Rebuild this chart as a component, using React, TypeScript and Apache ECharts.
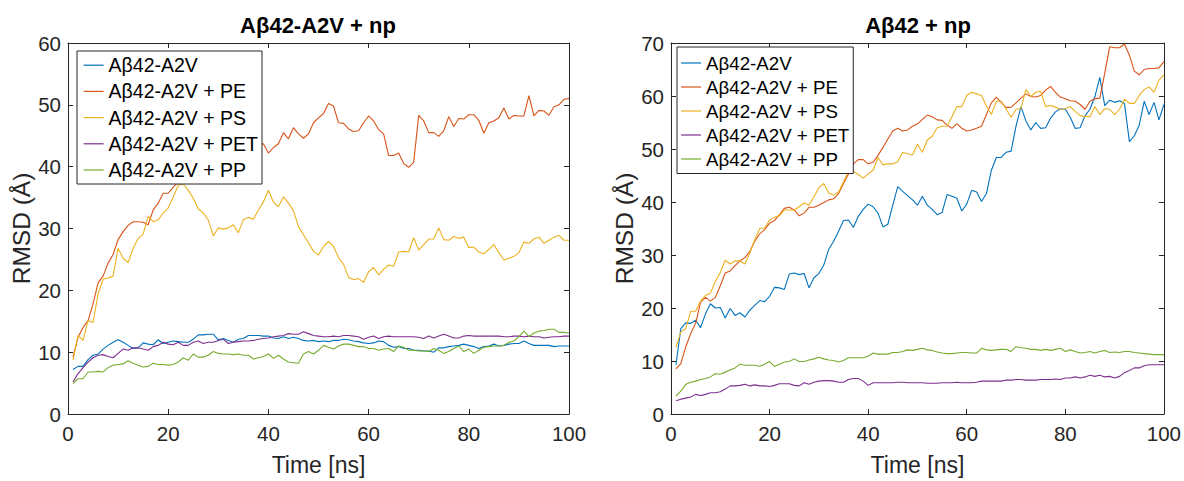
import React, { useEffect, useRef } from "react";
import * as echarts from "echarts";

const seriesNames = ["Aβ42-A2V", "Aβ42-A2V + PE", "Aβ42-A2V + PS", "Aβ42-A2V + PET", "Aβ42-A2V + PP"];
const seriesColors = ["#0072BD", "#D95319", "#EDB120", "#7E2F8E", "#77AC30"];
const leftTitle = "Aβ42-A2V + np";
const rightTitle = "Aβ42 + np";
const xName = "Time [ns]";
const yName = "RMSD (Å)";
const xTicks = [0, 20, 40, 60, 80, 100];
const leftYMax = 60;
const rightYMax = 70;

// time steps 1..100 ns
const timeNs = Array.from({ length: 100 }, (_, i) => i + 1);

// ---- Left panel: Aβ42-A2V + np ----
const leftA2V = [
  7.2, 7.7, 7.7, 8.8, 9.5, 9.7, 10.5, 11.1, 11.6, 12, 11.6, 11.1, 10.6, 10.7, 11.5, 11.3, 11.2, 12, 11.4, 11.6,
  11.8, 11.7, 11.6, 11.6, 12.1, 12.8, 12.8, 12.9, 12.9, 12, 12.2, 11.9, 11.6,
  12.1, 12.2, 12.7, 12.7, 12.7, 12.6, 12.6, 12.3, 12.2, 12.5, 12.2, 12.4, 12.2, 11.9, 11.8, 11.9, 11.7, 11.8,
  11.7, 11.9, 11.9, 12.1, 12, 11.8, 11.7, 11.5, 11.4, 11.5, 11.8, 11.7, 11.1, 10.8, 10.9,
  10.6,
  10.6, 10.3, 10.3, 10.2, 10.2, 10, 10.7, 10.7, 10.9, 11, 11.1, 11.3, 11.1, 10.9, 10.6, 10.9, 11, 11.3, 11,
  11.1, 11.3, 11.4, 11.4, 11.8, 11.4, 11.1, 11.1, 11.1, 11.1, 10.9, 11, 11, 11,
];
const leftPE = [
  9.2, 12.4, 14, 15.1, 17.8, 21.2, 22.3, 24.4, 25.8, 28.2, 29.5, 30.5, 31.1, 31.1, 31, 30.6, 33, 34.1, 35.7, 35.7,
  36.7, 37.5,
  38.5, 39, 39.8, 40.2, 40.9, 41.5, 41.2, 42, 42.6, 42.1, 43, 43.4, 42.8, 43.6, 44, 43.5,
  43.7, 42.2, 43.1, 43.7, 45.5, 44.5, 46.3, 45.3, 44.6, 45.3, 47.1, 47.9, 48.6, 50.2, 49.8, 47.1, 47, 46.1,
  45.7, 45.8, 47.1, 48.2, 47.4, 46, 45.3, 41.8, 41.8, 42.2,
  40.5, 39.9, 40.7, 48.3, 47.4, 45.5, 45.5, 44.9, 45.8, 48.1, 46.5, 47.8, 47.7, 48.4, 48.4, 47.5, 45.4, 47.1,
  47.4, 47.9, 49.5, 47.7, 48.3, 48.2, 48.2, 51.5, 48.2, 49.1, 49, 48.3, 49.7, 50, 50.9, 51,
];
const leftPS = [
  8.7, 12.7, 11.9, 15.1, 14.8, 19.4, 21.8, 22, 22.3, 26.8, 25.2, 24.5, 26.8, 28.4, 29.1, 32, 31.1, 31.4, 32.5,
  33.3, 35.1, 37, 37.2, 36.2, 34.9, 33.2, 32.5, 31.4, 28.8, 30.1, 29.9, 30.1, 30.6,
  29.3, 31.4, 31.8, 31.5, 33, 34.3, 36.2, 34.3, 33.5, 35.1, 34.1, 32.9, 30.3, 29, 27.7, 26.3, 25.7, 27.1, 27.9,
  27.1, 25.3, 24.2, 22.1, 21.7, 21.9, 21.3, 23, 23.7, 22.5, 23.4, 24.1, 23.9, 26.2, 26.3,
  26.2, 28.5, 26.5, 27.4, 28.3, 28.3, 30.1, 28.2, 28.1, 28.7, 28.4, 28.6, 26.9, 27, 26.2, 25.9, 26.6, 27.4,
  26.1, 24.9, 25.2, 25.5, 26.1, 27.8, 27.6, 28.3, 28.6, 27.6, 28.1, 28.6, 28.9, 28.1, 28.1,
];
const leftPET = [
  5.2, 6.5, 7.5, 8.4, 9.1, 9.5, 9.6, 9.3, 9.1, 9.8, 10.5, 10.3, 10.7, 10.7, 10.5, 10.3, 10.9, 11.1, 11.6, 11.3,
  11.2, 11.6, 11.1, 11.1, 11.6, 11.8, 11.4, 11.6, 11.6, 11.9, 12.1, 11.4, 11.6,
  11.7, 11.8, 11.8, 11.9, 12.1, 12.2, 12.3, 12.5, 12.6, 12.7, 13, 12.9, 12.9, 13.3, 13, 12.7, 12.6, 12.5, 12.5,
  12.6, 12.5, 12.7, 12.7, 12.6, 12.5, 12.1, 12.4, 12.6, 12.2, 12.5, 12.6, 12.5, 12.5,
  12.5,
  12.5, 12.5, 12.4, 12.2, 12.6, 12.3, 12.6, 12.9, 12.6, 12.3, 12.3, 12.6, 12.7, 12.6, 12.6, 12.6, 12.6, 12.6,
  12.6, 12.5, 12.5, 12.6, 12.6, 12.5, 12.6, 12.5, 12.5, 12.3, 12.4, 12.5, 12.5, 12.6, 12.6,
];
const leftPP = [
  4.9, 5.7, 5.7, 6.8, 6.8, 6.9, 6.8, 7.5, 7.9, 8, 8.1, 8.6, 8.2, 7.9, 7.6, 7.7, 8.2, 8, 8, 7.9, 8, 8.4, 9.1,
  8.7, 9.7, 9.2, 9.2, 9.5, 10.1, 9.8, 9.7, 9.7, 9.6,
  9.7, 9.5, 9.5, 8.9, 9.1, 9.3, 9.7, 9, 9.5, 8.9, 8.4, 8.3, 8.2, 9.7, 10.1, 9.7, 10.3, 11.1, 10.8, 10.5, 11,
  11.3, 11.3, 11.1, 10.9, 10.9, 10.6, 10.6, 10.3, 10.5, 10.6, 10.1, 11,
  10.8,
  10.3, 10.3, 10.2, 10.2, 10.1, 10.6, 10.3, 9.8, 10.1, 10.6, 11, 10.1, 10.5, 9.8, 10.3, 10.8, 10.9, 11, 11,
  11.1, 11.6, 11.8, 12.5, 13.4, 12.5, 13.1, 13.4, 13.5, 13.7, 13.7, 13.2, 13.2, 13.1,
];

// ---- Right panel: Aβ42 + np ----
const rightA2V = [
  9.3, 16.1, 17.2, 17.1, 17.7, 16.3, 18.9, 20.8, 20, 20.1, 18.1, 19.9, 18.6, 19.1, 18.3, 19.6, 20.5, 21.4, 21.2,
  22.2, 23.9, 23.8, 23.5, 26.4, 26.6, 26.3, 26.5, 23.8, 25.7, 26.5, 28.1, 31.1, 32.6, 34.5, 36.5, 36.6, 35.2,
  37.3, 38.6, 39.6, 39.1, 37.9, 35.3, 35.8, 39.4, 42.9, 42, 41.2, 40.4, 39.4,
  41.1, 39.4, 38.6, 37.6, 38, 41.4, 41.1, 40.7, 38.3, 39.6, 42.2, 41.9, 40.1, 41.6, 46, 48.4, 48.4, 49.4, 49.6,
  54.3, 58, 55.3, 53.6, 55, 53.9, 54, 55.8, 57, 57.6, 57.5, 56, 53.9, 54, 56.3, 57.5, 59.9, 63.5, 58.2, 59.2,
  58.8, 59.1, 58.6, 51.4, 52.5, 54.5, 59, 56.5, 58.8, 55.5, 58.4,
];
const rightPE = [
  8.5, 9.5, 12.7, 15.2, 17.1, 21.1, 22, 21.3, 22, 24.2, 26.6, 27, 28, 28.9, 29.5, 30.7, 32.6, 34, 34.8, 36,
  36.5, 37.6, 38.8, 39, 38.5, 37.4, 37.9, 39, 39, 39.4, 39.9, 40.4, 40.6, 41.6, 43.5, 45.3, 47.2, 48, 48, 47.2,
  47.5, 48.8, 50.3, 51.9, 53.4, 53.9, 53.4, 53.6, 54.3, 54.7,
  55.6, 56.4, 56.1, 55.5, 55.4, 54.5, 53.9, 54.8, 53.9, 53.4, 53.6, 53.9, 54.3, 56.5, 58.7, 59.8, 58.8, 57.8,
  57.9, 58.7, 59.6, 60.4, 59.9, 59.8, 60.1, 61.1, 61.8, 60.7, 59.8, 59.5, 59.1, 59, 58.4, 57.5, 59, 59.5, 59.6,
  64.3, 69.3, 69.1, 69.1, 69.8, 67.7, 64.7, 64, 65, 65.2, 65.2, 65.3, 66.5,
];
const rightPS = [
  12.6, 15.5, 16.1, 19.4, 19.4, 21.3, 22.4, 22.8, 25, 26.7, 29, 28.3, 28.9, 28.9, 28.3, 30.4, 32.9, 35, 35.1,
  36.6, 37.1, 37.4, 38.5, 38.5, 38.5, 39.1, 39.8, 39.4, 41, 42.7, 43.5, 41.7, 41.3, 41.9, 43.8, 45.7, 45.8, 45.2,
  44.5, 45.3, 46, 48.4, 47, 47.2, 47.2, 47.6, 49.4, 49.1, 48.9, 50.9,
  49.4, 51.7, 52.4, 54, 54.3, 54.3, 56.1, 58, 58, 60.1, 60.7, 60.4, 60.1, 58.1, 56.5, 59, 59, 57.5, 56, 57.5,
  57.6, 61.2, 59.9, 60.7, 60.9, 58, 58.2, 57.9, 57.5, 57.6, 58, 57.1, 56.3, 56.1, 56.1, 58, 56.5, 57.6, 57.5,
  56.5, 57.5, 59.4, 58.6, 58.6, 60.1, 61.2, 61.7, 60.7, 63, 64,
];
const rightPET = [
  2.5, 2.8, 3, 3.2, 3.7, 3.5, 3.7, 4, 4, 4.2, 4.7, 5.3, 5.3, 5.4, 5.6, 5.3, 5.5, 5.3, 5.3, 5.2, 5.4, 5.7, 5.7,
  5.7, 5.4, 5.3, 5.9, 5.6, 6, 6.2, 6.3, 6.3, 6.2, 6, 6, 6.5, 6.7, 6.7, 6.2, 5.4, 5.9, 5.9, 5.9, 5.9, 5.9, 6, 6,
  5.9, 5.9, 5.9,
  5.9, 5.8, 5.8, 5.8, 5.9, 5.9, 5.9, 6, 5.9, 5.9, 5.9, 6, 6.2, 6.2, 6.2, 6.2, 6.2, 6.4, 6.4, 6.5, 6.5, 6.4, 6.4,
  6.4, 6.5, 6.5, 6.5, 6.6, 6.5, 6.8, 6.8, 7, 6.8, 7, 7.3, 7.1, 7.3, 7, 7.1, 6.8, 7.1, 7.8, 8.2, 8.7, 8.7, 9.1,
  9.3, 9.3, 9.3, 9.3,
];
const rightPP = [
  3.4, 4.3, 5.6, 6, 6.2, 6.5, 6.7, 7, 7.6, 7.5, 7.9, 8.3, 8.7, 9.4, 9.2, 9.2, 9.2, 9, 9.4, 9.9, 9, 9.4, 9.8, 9.9,
  10.4, 9.9, 9.9, 10.2, 10.4, 10.7, 10.4, 10.2, 10.1, 9.8, 10.1, 10.6, 10.6, 10.6, 10.6, 10.9, 11.5, 11.3, 11.3,
  11.3, 11.6, 11.6, 11.8, 12.1, 12, 12.2,
  12.4, 12.1, 12, 11.7, 11.5, 11.4, 11.4, 11.5, 11.6, 11.6, 11.5, 11.5, 12.4, 12.1, 12, 12.1, 12.2, 12.2, 11.8,
  12.7, 12.5, 12.4, 12.2, 12.2, 12, 12.2, 12, 12.2, 12.4, 11.8, 12.1, 11.8, 11.5, 11.6, 11.8, 11.5, 11.8, 12,
  11.6, 11.7, 11.6, 11.8, 11.8, 11.6, 11.5, 11.4, 11.3, 11.2, 11.2, 11.2,
];

const leftData = [leftA2V, leftPE, leftPS, leftPET, leftPP];
const rightData = [rightA2V, rightPE, rightPS, rightPET, rightPP];

const FONT = "Liberation Sans, Arial, Helvetica, sans-serif";
const AXIS = "#262626";

function App() {
  const ref = useRef<HTMLDivElement>(null);
  useEffect(() => {
    if (!ref.current) return;
    const chart = echarts.init(ref.current, undefined, { renderer: "svg" });

    const grids = [
      { left: 68, top: 43, width: 501, height: 375 },
      { left: 671, top: 43, width: 495, height: 375 },
    ];
    const yMaxes = [leftYMax, rightYMax];

    const xAxes: any[] = [];
    const yAxes: any[] = [];
    grids.forEach((_, gi) => {
      const base = {
        gridIndex: gi,
        type: "value",
        min: 0,
        interval: 20,
        max: 100,
        axisLine: { show: true, onZero: false, lineStyle: { color: AXIS, width: 1 } },
        axisTick: { show: true, inside: true, length: 5, lineStyle: { color: AXIS } },
        splitLine: { show: false },
      };
      xAxes.push({
        ...base,
        position: "bottom",
        axisLabel: {
          show: true,
          fontSize: 20.5,
          color: AXIS,
          fontFamily: FONT,
          margin: 9,
          formatter: (v: number) => (xTicks.includes(v) ? String(v) : ""),
        },
        name: xName,
        nameLocation: "middle",
        nameGap: 39,
        nameTextStyle: { fontSize: 23, color: AXIS, fontFamily: FONT },
      });
      xAxes.push({ ...base, position: "top", axisLabel: { show: false } });
      const ybase = {
        gridIndex: gi,
        type: "value",
        min: 0,
        max: yMaxes[gi],
        interval: 10,
        axisLine: { show: true, onZero: false, lineStyle: { color: AXIS, width: 1 } },
        axisTick: { show: true, inside: true, length: 5, lineStyle: { color: AXIS } },
        splitLine: { show: false },
      };
      yAxes.push({
        ...ybase,
        position: "left",
        axisLabel: { show: true, fontSize: 20.5, color: AXIS, fontFamily: FONT, margin: 7 },
        name: yName,
        nameLocation: "middle",
        nameRotate: 90,
        nameGap: 31,
        nameTextStyle: { fontSize: 24.5, color: AXIS, fontFamily: FONT },
      });
      yAxes.push({ ...ybase, position: "right", axisLabel: { show: false } });
    });

    const series: any[] = [];
    [leftData, rightData].forEach((panel, gi) => {
      panel.forEach((vals, si) => {
        series.push({
          type: "line",
          name: seriesNames[si],
          xAxisIndex: gi * 2,
          yAxisIndex: gi * 2,
          data: vals.map((v, i) => [timeNs[i], v]),
          symbol: "none",
          showSymbol: false,
          clip: true,
          lineStyle: { color: seriesColors[si], width: 1.1 },
          itemStyle: { color: seriesColors[si] },
          emphasis: { disabled: true },
        });
      });
    });

    const legendBase = {
      data: seriesNames,
      orient: "vertical",
      selectedMode: false,
      itemHeight: 14,
      itemWidth: 20,
      backgroundColor: "#ffffff",
      borderColor: AXIS,
      borderWidth: 1,
      borderRadius: 0,
      itemStyle: { opacity: 0, borderWidth: 0 },
      lineStyle: { width: 1.2 },
    };

    chart.setOption({
      animation: false,
      backgroundColor: "#ffffff",
      grid: grids.map((g) => ({ ...g, containLabel: false })),
      xAxis: xAxes,
      yAxis: yAxes,
      series,
      legend: [
        {
          ...legendBase,
          left: 77,
          top: 51,
          itemGap: 6.2,
          padding: [4.2, 4, 4, 6],
          textStyle: { fontSize: 19.5, color: "#000", fontFamily: FONT },
        },
        {
          ...legendBase,
          left: 677,
          top: 47,
          itemGap: 5,
          padding: [6.5, 4, 5, 3.5],
          textStyle: { fontSize: 18.7, color: "#000", fontFamily: FONT },
        },
      ],
      graphic: [
        {
          type: "text",
          x: 318,
          y: 25.4,
          style: {
            text: leftTitle,
            fill: "#000",
            font: `bold 22px ${FONT}`,
            textAlign: "center",
            textVerticalAlign: "middle",
          },
        },
        {
          type: "text",
          x: 918,
          y: 25.4,
          style: {
            text: rightTitle,
            fill: "#000",
            font: `bold 22px ${FONT}`,
            textAlign: "center",
            textVerticalAlign: "middle",
          },
        },
      ],
    });
    return () => chart.dispose();
  }, []);
  return (
    <div
      ref={ref}
      style={{ position: "fixed", left: 0, top: 0, width: 1184, height: 481, background: "#fff" }}
    />
  );
}

export default App;
